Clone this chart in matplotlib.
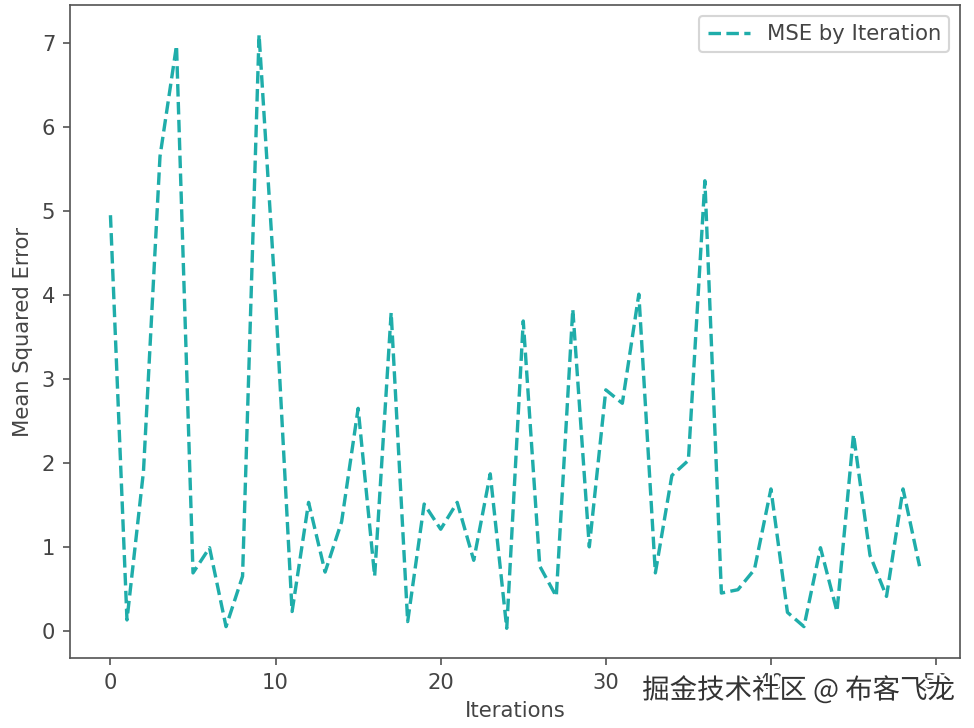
import matplotlib.pyplot as plt
import matplotlib.patheffects as pe

# valores
iterations = list(range(50))
mse = [4.95, 0.13, 1.9, 5.65, 6.97, 0.69, 0.99, 0.05, 0.65, 7.1,
       3.95, 0.23, 1.53, 0.7, 1.3, 2.65, 0.65, 3.79, 0.11, 1.51,
       1.21, 1.53, 0.84, 1.87, 0.03, 3.69, 0.77, 0.41, 3.83, 1.0,
       2.87, 2.71, 4.01, 0.69, 1.85, 2.03, 5.36, 0.45, 0.49, 0.73,
       1.69, 0.22, 0.05, 0.99, 0.23, 2.34, 0.9, 0.41, 1.69, 0.77]

plt.rcParams['font.family'] = ['DejaVu Sans', 'Noto Sans CJK SC']
text_color = '#444444'
spine_color = '#555555'

fig = plt.figure(figsize=(974 / 152, 728 / 152), dpi=152)
ax = fig.add_axes([70 / 974, 1 - 658 / 728, 890 / 974, 653 / 728])

ax.plot(iterations, mse, color='#1fadaa', linestyle='--', linewidth=1.6, label='MSE by Iteration')

ax.set_xlabel('Iterations', color=text_color)
ax.set_ylabel('Mean Squared Error', color=text_color)
ax.tick_params(colors=spine_color, labelcolor=text_color)
for s in ax.spines.values():
    s.set_color(spine_color)

leg = ax.legend(loc='upper right')
for t in leg.get_texts():
    t.set_color(text_color)

# marca d'agua
fig.text(0.981, 0.052, '掘金技术社区 @ 布客飞龙', ha='right', va='center', fontsize=13,
         color='#333333', family=['Noto Sans CJK SC', 'DejaVu Sans'],
         path_effects=[pe.withStroke(linewidth=2, foreground='white')])

fig.savefig('out.png', dpi=152)
